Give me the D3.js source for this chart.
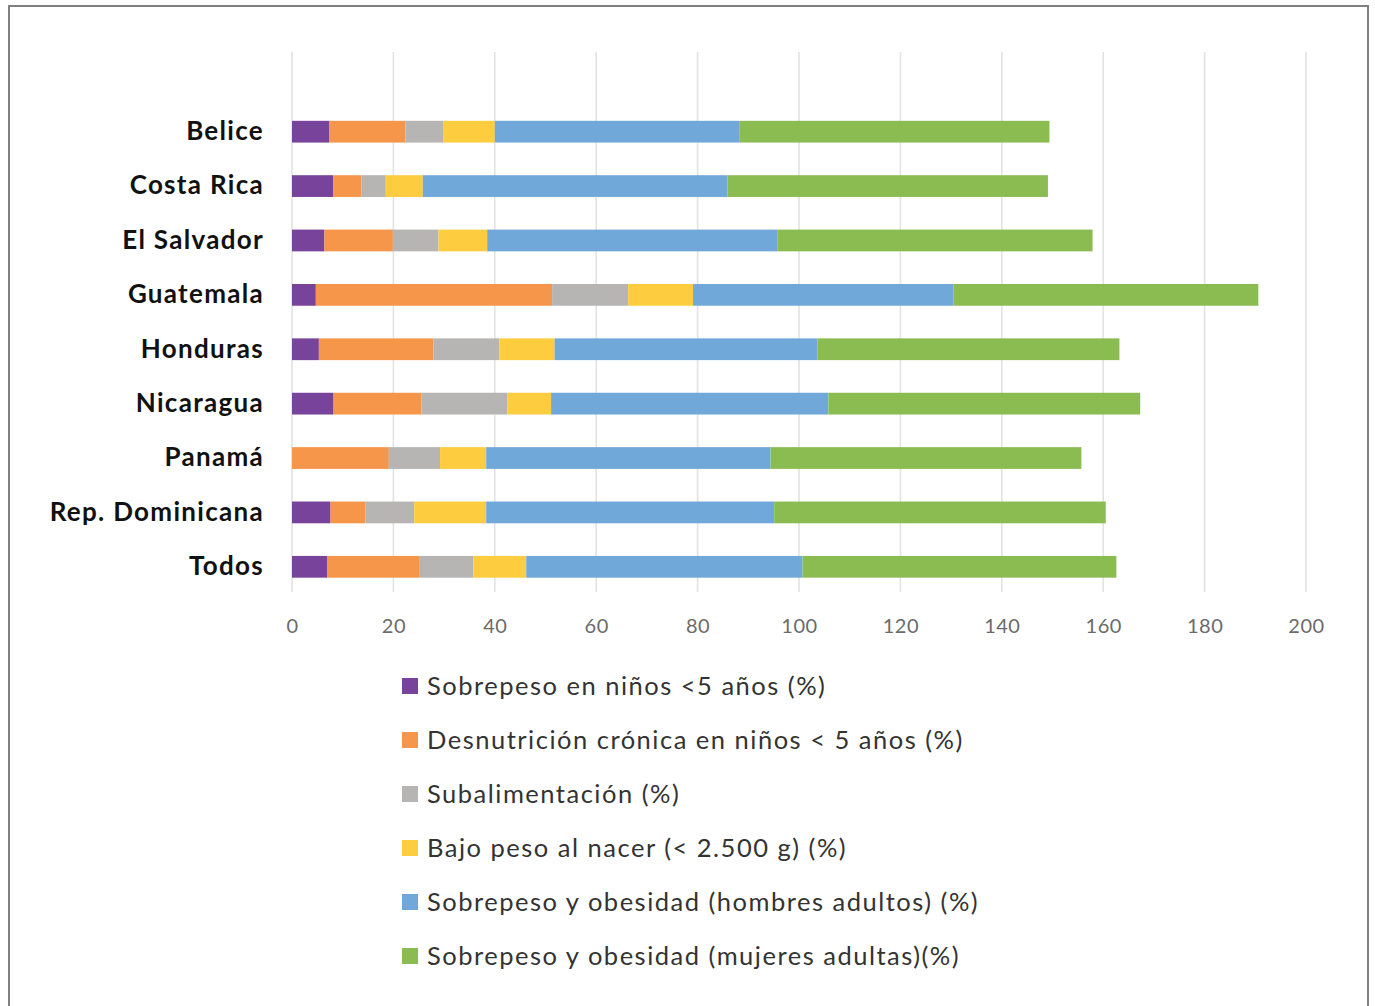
<!DOCTYPE html>
<html>
<head>
<meta charset="utf-8">
<script src="https://cdn.jsdelivr.net/npm/d3@7"></script>
<style>
  body { margin: 0; background: #fff; }
  svg { display: block; }
</style>
</head>
<body>
<div id="chart"></div>
<script>
// countries, top to bottom
var categories = ["Belice", "Costa Rica", "El Salvador", "Guatemala", "Honduras",
                  "Nicaragua", "Panamá", "Rep. Dominicana", "Todos"];

var seriesNames = [
  "Sobrepeso en niños <5 años (%)",
  "Desnutrición crónica en niños < 5 años (%)",
  "Subalimentación (%)",
  "Bajo peso al nacer (< 2.500 g) (%)",
  "Sobrepeso y obesidad (hombres adultos) (%)",
  "Sobrepeso y obesidad (mujeres adultas)(%)"
];

var sobrepesoNinos   = [7.4, 8.1, 6.4, 4.7, 5.3, 8.2, 0.0, 7.6, 6.9];
var desnutricion     = [15.0, 5.6, 13.5, 46.6, 22.6, 17.3, 19.1, 6.9, 18.3];
var subalimentacion  = [7.4, 4.8, 9.0, 15.0, 13.0, 17.0, 10.1, 9.6, 10.6];
var bajoPeso         = [10.2, 7.3, 9.6, 12.8, 10.9, 8.6, 9.1, 14.2, 10.4];
var hombresAdultos   = [48.2, 60.1, 57.2, 51.4, 51.8, 54.7, 56.1, 56.8, 54.5];
var mujeresAdultas   = [61.2, 63.2, 62.2, 60.1, 59.6, 61.5, 61.3, 65.4, 61.9];

var xTicks = [0, 20, 40, 60, 80, 100, 120, 140, 160, 180, 200];

var colors = ["#77439b", "#f5964a", "#b6b5b3", "#fdcd3f", "#71a8da", "#8bbc52"];

var allSeries = [sobrepesoNinos, desnutricion, subalimentacion, bajoPeso, hombresAdultos, mujeresAdultas];

// build rows for d3.stack
var rows = categories.map(function(c, i) {
  var r = { cat: c };
  seriesNames.forEach(function(s, j) { r[s] = allSeries[j][i]; });
  return r;
});

var width = 1375, height = 1006;

var svg = d3.select("#chart").append("svg")
  .attr("width", width)
  .attr("height", height);

// outer frame
svg.append("rect")
  .attr("x", 9).attr("y", 6)
  .attr("width", 1359).attr("height", 1010)
  .attr("fill", "none")
  .attr("stroke", "#808080")
  .attr("stroke-width", 2);

var x = d3.scaleLinear().domain([0, 200]).range([292, 1306]);

var y = d3.scaleBand()
  .domain(categories)
  .range([104.5, 594])
  .paddingInner(0.6)
  .paddingOuter(0.3);

// gridlines
svg.append("g")
  .selectAll("line")
  .data(xTicks)
  .enter().append("line")
  .attr("x1", function(d) { return x(d); })
  .attr("x2", function(d) { return x(d); })
  .attr("y1", 52)
  .attr("y2", 592)
  .attr("stroke", "#e3e3e3")
  .attr("stroke-width", 1.6);

// x axis labels
var xAxis = d3.axisBottom(x)
  .tickValues(xTicks)
  .tickSize(0)
  .tickPadding(0);

var gx = svg.append("g")
  .attr("transform", "translate(0,626)")
  .call(xAxis);
gx.select(".domain").remove();
gx.selectAll("text")
  .attr("dy", "0.35em")
  .attr("y", 0)
  .style("font-family", "Lato, 'Noto Sans', sans-serif")
  .style("font-size", "20px")
  .style("letter-spacing", "0.5px")
  .style("fill", "#6b6b6b");

// stacked bars
var stack = d3.stack().keys(seriesNames);
var layers = stack(rows);

svg.append("g")
  .selectAll("g")
  .data(layers)
  .enter().append("g")
  .attr("fill", function(d, i) { return colors[i]; })
  .selectAll("rect")
  .data(function(d) { return d; })
  .enter().append("rect")
  .attr("x", function(d) { return x(d[0]); })
  .attr("width", function(d) { return x(d[1]) - x(d[0]); })
  .attr("y", function(d) { return y(d.data.cat); })
  .attr("height", y.bandwidth());

// category labels
var yAxis = d3.axisLeft(y).tickSize(0).tickPadding(0);
var gy = svg.append("g")
  .attr("transform", "translate(264,0)")
  .call(yAxis);
gy.select(".domain").remove();
gy.selectAll("text")
  .style("font-family", "Lato, 'Noto Sans', sans-serif")
  .style("font-size", "26px")
  .style("font-weight", "bold")
  .style("letter-spacing", "1.3px")
  .style("fill", "#111");

// legend
var legend = svg.append("g")
  .selectAll("g")
  .data(seriesNames)
  .enter().append("g")
  .attr("transform", function(d, i) { return "translate(402," + (686 + i * 54) + ")"; });

legend.append("rect")
  .attr("x", 0).attr("y", -8)
  .attr("width", 16).attr("height", 16)
  .attr("fill", function(d, i) { return colors[i]; });

legend.append("text")
  .attr("x", 25)
  .attr("y", 0)
  .attr("dy", "0.35em")
  .style("font-family", "Lato, 'Noto Sans', sans-serif")
  .style("font-size", "25.5px")
  .style("letter-spacing", "1.5px")
  .style("fill", "#333")
  .text(function(d) { return d; });
</script>
</body>
</html>
